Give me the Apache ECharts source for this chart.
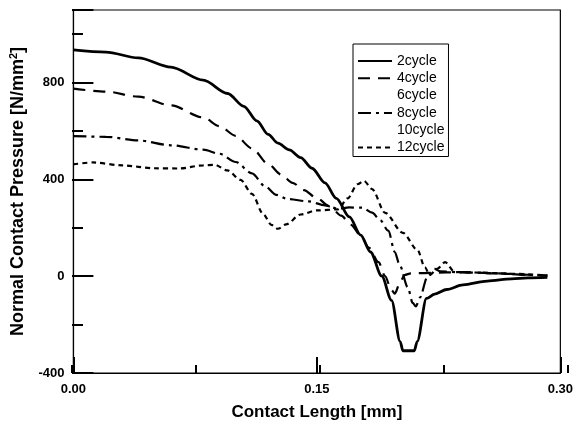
<!DOCTYPE html>
<html><head><meta charset="utf-8">
<script src="https://cdn.jsdelivr.net/npm/echarts@6/dist/echarts.min.js"></script>
<style>html,body{margin:0;padding:0;background:#fff}#c{width:576px;height:427px}</style>
</head><body><div id="c"></div>
<script>
// ---- data (x: contact length in mm, y: normal contact pressure in N/mm^2)
const seriesNames = ['2cycle', '4cycle', '6cycle', '8cycle', '10cycle', '12cycle'];
const cycle2 = [[0,935],[0.02,926],[0.04,902],[0.06,864],[0.08,810],[0.095,755],[0.105,702],[0.113,642],[0.12,586],[0.126,550],[0.133,522],[0.14,490],[0.147,446],[0.155,386],[0.162,322],[0.17,245],[0.177,170],[0.183,100],[0.19,0],[0.196,-100],[0.2013,-270],[0.203,-308],[0.21,-308],[0.2118,-270],[0.2175,-92],[0.2226,-74],[0.23,-55],[0.24,-36],[0.255,-20],[0.27,-11],[0.28,-7],[0.292,-5]];
const cycle4 = [[0,775],[0.02,763],[0.04,742],[0.06,706],[0.08,656],[0.09,620],[0.1,580],[0.11,528],[0.12,464],[0.128,420],[0.135,386],[0.142,356],[0.15,322],[0.158,288],[0.165,250],[0.171,212],[0.177,168],[0.182,118],[0.188,58],[0.192,0],[0.196,-58],[0.198,-72],[0.201,-30],[0.204,5],[0.208,12],[0.22,14],[0.24,17],[0.26,12],[0.28,6],[0.292,3]];
const cycle6 = [];
const cycle8 = [[0,579],[0.02,576],[0.04,561],[0.06,541],[0.08,523],[0.09,506],[0.1,472],[0.11,425],[0.118,372],[0.125,336],[0.132,319],[0.145,309],[0.155,293],[0.163,279],[0.17,284],[0.178,283],[0.184,263],[0.189,232],[0.194,188],[0.198,100],[0.201,46],[0.206,-46],[0.209,-110],[0.211,-125],[0.2135,-88],[0.218,-4],[0.2225,30],[0.226,20],[0.24,16],[0.26,12],[0.28,5],[0.292,2]];
const cycle10 = [];
const cycle12 = [[0,462],[0.012,470],[0.03,458],[0.05,446],[0.065,445],[0.08,458],[0.087,460],[0.095,437],[0.103,398],[0.11,340],[0.117,256],[0.122,212],[0.126,196],[0.131,214],[0.14,255],[0.15,272],[0.163,276],[0.169,322],[0.175,380],[0.179,394],[0.184,360],[0.192,262],[0.203,179],[0.212,108],[0.2165,37],[0.2195,5],[0.224,30],[0.229,58],[0.235,17],[0.25,15],[0.27,10],[0.292,3]];
const seriesData = [cycle2, cycle4, cycle6, cycle8, cycle10, cycle12];

// ---- axes / ticks
const xMin = 0, xMax = 0.30, xMajor = 0.15, xMinor = 0.075;
const yMin = -400, yMax = 1100, yMajor = 400, yMinor = 200;
const xTitle = 'Contact Length [mm]';
const yTitle = 'Normal Contact Pressure [N/mm{sup|2}]';

// ---- styles
const FONT = '"Liberation Sans", Arial, Helvetica, sans-serif';
const lineTypes = ['solid', [12, 8], 'solid', [13, 5, 3, 5], 'solid', [5, 4]];
const lineWidths = [2.8, 2.2, 2.2, 2.2, 2.2, 2.2];
const lineOpacity = [1, 1, 0, 1, 0, 1];

const chart = echarts.init(document.getElementById('c'), null, {renderer: 'canvas'});
const gridRect = {left: 72, right: 8, top: 10, bottom: 54};

chart.setOption({
  backgroundColor: '#fff',
  animation: false,
  textStyle: {fontFamily: FONT, color: '#000'},
  grid: [
    Object.assign({show: true, borderColor: '#000', borderWidth: 1.2, backgroundColor: 'transparent'}, gridRect),
    Object.assign({show: false}, gridRect)
  ],
  legend: {
    orient: 'vertical', left: 353, top: 44,
    data: seriesNames,
    itemWidth: 34, itemHeight: 14, itemGap: 3.3,
    padding: [10, 4, 2, 4],
    borderColor: '#000', borderWidth: 1,
    itemStyle: {opacity: 0},
    textStyle: {fontFamily: FONT, fontSize: 14, color: '#000'},
    selectedMode: false
  },
  xAxis: [
    {
      type: 'value', gridIndex: 0, min: xMin, max: xMax, interval: xMajor,
      name: xTitle, nameLocation: 'middle', nameGap: 31,
      nameTextStyle: {fontFamily: FONT, fontSize: 17, fontWeight: 'bold', color: '#000'},
      axisLine: {show: true, onZero: false, lineStyle: {color: '#000', width: 1.2}},
      axisTick: {show: true, inside: true, length: 16, lineStyle: {color: '#000', width: 2}},
      axisLabel: {show: true, margin: 10, fontFamily: FONT, fontSize: 13, fontWeight: 'bold', color: '#000',
        formatter: v => v.toFixed(2)},
      splitLine: {show: false}
    },
    {
      type: 'value', gridIndex: 1, min: xMin, max: xMax, interval: xMinor,
      axisLine: {show: false, onZero: false},
      axisTick: {show: true, inside: true, length: 8, lineStyle: {color: '#000', width: 2}},
      axisLabel: {show: false}, splitLine: {show: false}
    }
  ],
  yAxis: [
    {
      type: 'value', gridIndex: 0, min: yMin, max: yMax, interval: yMajor,
      name: yTitle, nameLocation: 'middle', nameGap: 40, nameRotate: 90,
      nameTextStyle: {fontFamily: FONT, fontSize: 18, fontWeight: 'bold', color: '#000',
        rich: {sup: {fontFamily: FONT, fontSize: 11, fontWeight: 'bold', color: '#000', verticalAlign: 'top', padding: [0, 0, 10, 0]}}},
      axisLine: {show: true, onZero: false, lineStyle: {color: '#000', width: 1.2}},
      axisTick: {show: true, inside: true, length: 20, lineStyle: {color: '#000', width: 2}},
      axisLabel: {show: true, margin: 9, fontFamily: FONT, fontSize: 13, fontWeight: 'bold', color: '#000',
        formatter: v => (v % yMajor === 0 ? String(v) : '')},
      splitLine: {show: false}
    },
    {
      type: 'value', gridIndex: 1, min: yMin, max: yMax, interval: yMinor,
      axisLine: {show: false, onZero: false},
      axisTick: {show: true, inside: true, length: 11, lineStyle: {color: '#000', width: 2}},
      axisLabel: {show: false}, splitLine: {show: false}
    }
  ],
  series: seriesNames.map((name, i) => ({
    name: name, type: 'line', xAxisIndex: 0, yAxisIndex: 0,
    data: seriesData[i], symbol: 'none', showSymbol: false,
    smooth: 0.3, smoothMonotone: 'x',
    itemStyle: {color: '#000'},
    lineStyle: {color: '#000', width: lineWidths[i], type: lineTypes[i], opacity: lineOpacity[i]},
    z: 3
  }))
});
</script></body></html>
